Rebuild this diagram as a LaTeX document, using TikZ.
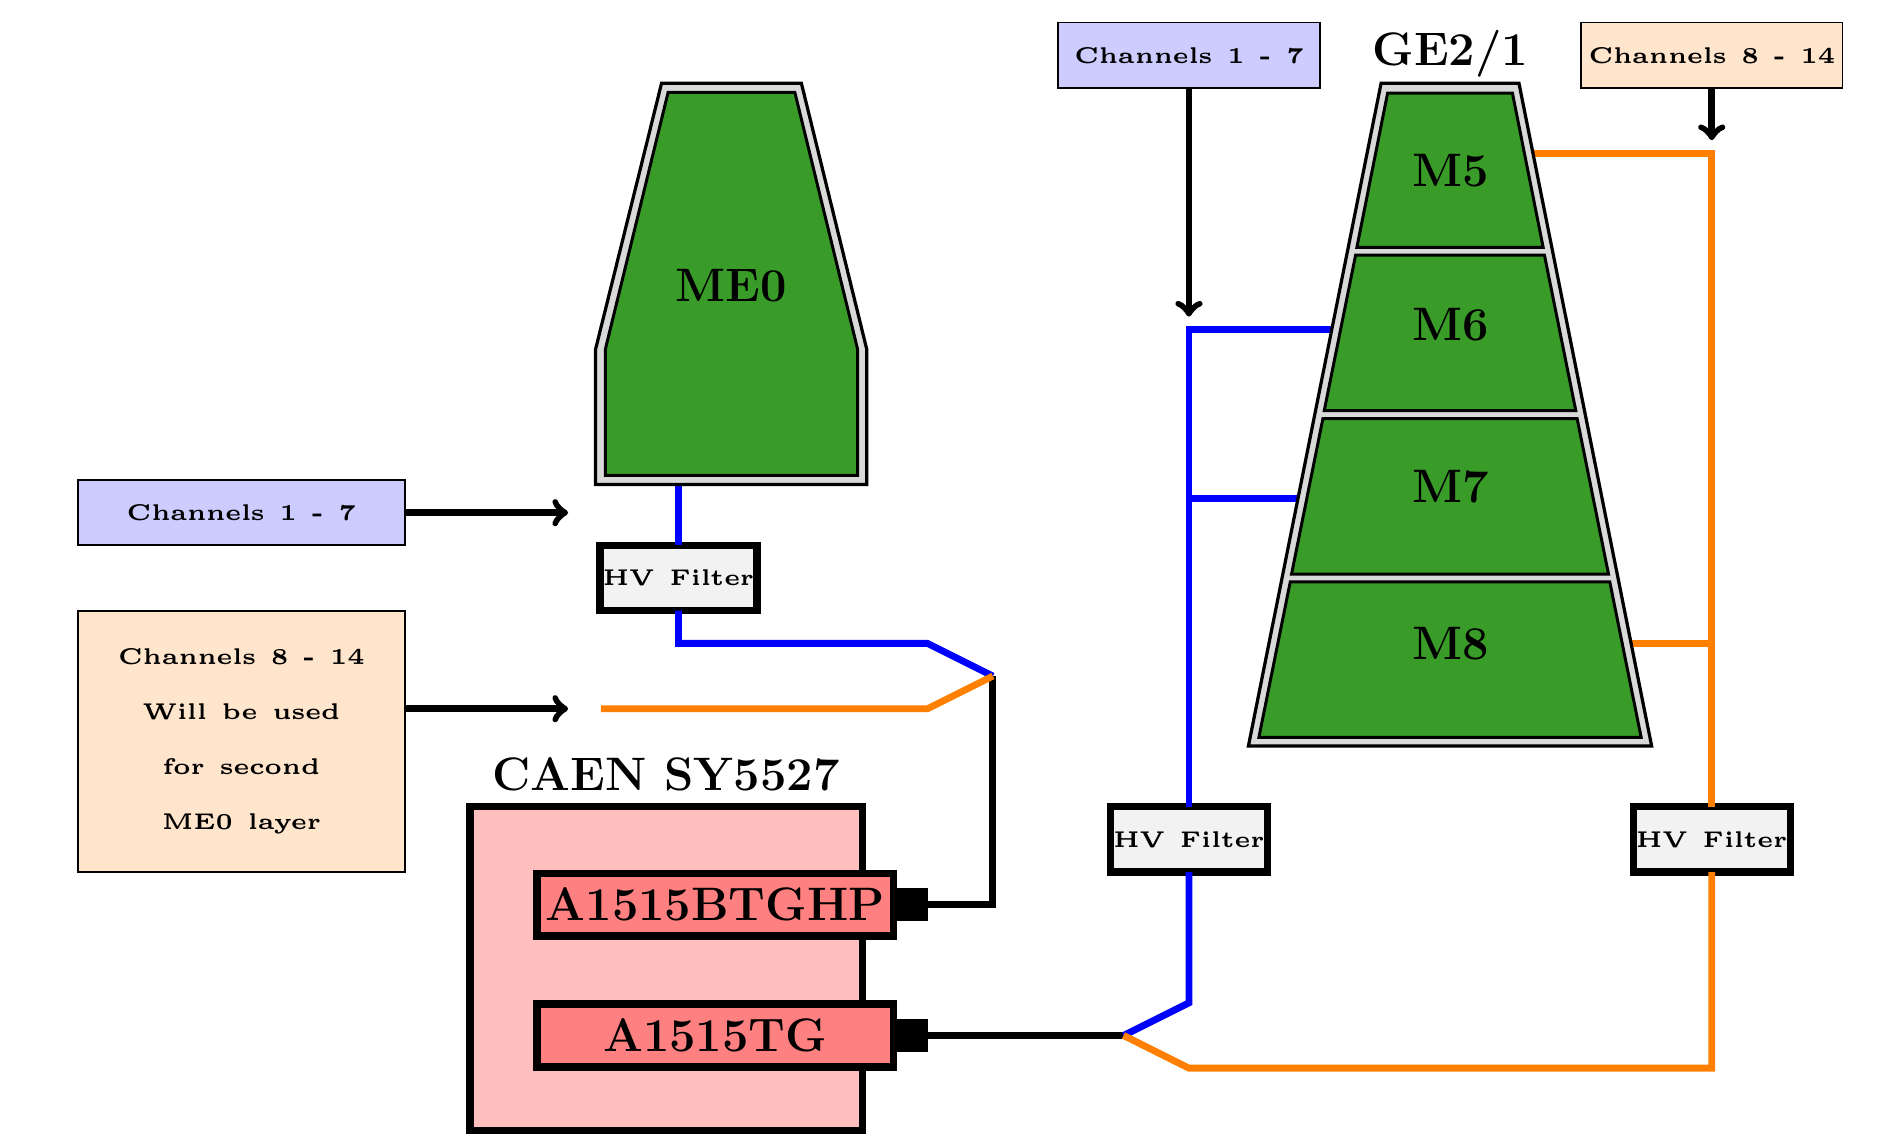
\documentclass[tikz,border=0pt]{standalone}
\usepackage{tikz}

\definecolor{chamber}{RGB}{58,156,40}
\newcommand{\chanfont}{\tiny\bfseries\spaceskip=3.3pt\relax}
\newcommand{\bigfont}{\fontsize{20.45}{24}\selectfont\bfseries}

\begin{document}
\begin{tikzpicture}[>=to,
    wire/.style={line width=3pt},
    chan/.style={draw, thick, scale=1.98, outer sep=0pt, inner sep=0pt, font=\chanfont, align=center, minimum width=5cm/1.98, minimum height=1cm/1.98},
    filter/.style={draw, line width=3.2pt, fill=gray!10, scale=1.98, outer sep=0pt, font=\chanfont, inner sep=0pt, minimum width=2.4cm/1.98, minimum height=1cm/1.98},
    module/.style={draw, line width=3.2pt, fill=red!50, outer sep=0pt, font=\bigfont, minimum width=5.45cm, minimum height=0.96cm},
    port/.style={fill=black, inner sep=0pt, outer sep=0pt, minimum size=0.5cm},
    title/.style={font=\bigfont},
    frame/.style={draw, line width=1.4pt, fill=gray!30},
    gem/.style={draw, line width=1.3pt, fill=chamber}]
  \useasboundingbox (-1.193,0) rectangle (27.697,17.345);

  % Labels for the channels
  \node[chan, fill=blue!20] (chanA) at (2.5,9.5) {Channels 1 - 7};
  \node[chan, fill=orange!20, minimum height=4cm/1.98] (chanB) at (2.5,6) {Channels 8 - 14\\[6.1pt] Will be used\\[6.1pt] for second\\[6.1pt] ME0 layer};
  \node[chan, fill=blue!20, minimum width=4cm/1.98] (chanC) at (17,16.5) {Channels 1 - 7};
  \node[chan, fill=orange!20, minimum width=4cm/1.98] (chanD) at (25,16.5) {Channels 8 - 14};

  % Mainframe and boards
  \draw[line width=3.2pt, fill=red!25] (6,0.04) rectangle (12,5);
  \node[title] (caen) at (9,5.5) {CAEN SY5527};
  \node[module] (boardA) at (9.75,3.5) {A1515BTGHP};
  \node[module] (boardB) at (9.75,1.5) {A1515TG};
  \node[port] (portA) at (12.75,3.5) {};
  \node[port] (portB) at (12.75,1.5) {};

  % Filters
  \node[filter] (filterA) at (9.19,8.5) {HV Filter};
  \node[filter] (filterB) at (17,4.5) {HV Filter};
  \node[filter] (filterC) at (25,4.5) {HV Filter};

  % Points where the wires split or end
  \coordinate (splitA) at (14,7);
  \coordinate (splitB) at (16,1.5);
  \coordinate (armA) at (7.5,9.5);
  \coordinate (armB) at (7.5,6.5);
  \coordinate (armC) at (17,12.5);
  \coordinate (armD) at (25,15.2);
  \coordinate (spare) at (8,6.5);
  \coordinate (meIn) at (9.19,9.94);
  \coordinate (mSix) at (19.2,12.3);
  \coordinate (mSeven) at (18.68,9.72);
  \coordinate (mFive) at (22.26,15);
  \coordinate (mEight) at (23.76,7.5);

  % Black wires
  \draw[wire] (portA.east) -- (14,3.5) -- (splitA);
  \draw[wire] (portB.east) -- (splitB);
  \draw[wire, ->] (chanA.east |- armA) -- (armA);
  \draw[wire, ->] (chanB.east |- armB) -- (armB);
  \draw[wire, ->] (chanC.south) -- (armC);
  \draw[wire, ->] (chanD.south) -- (armD);

  % Blue wires
  \draw[wire, blue] (filterA.north) -- (meIn);
  \draw[wire, blue] (filterA.south) -- (9.19,7.5) -- (13,7.5) -- (splitA);
  \draw[wire, blue] (splitB) -- (17,2) -- (filterB.south);
  \draw[wire, blue] (filterB.north) -- (17,12.3) -- (mSix);
  \draw[wire, blue] (17,9.72) -- (mSeven);

  % Orange wires
  \draw[wire, orange] (spare) -- (13,6.5) -- (splitA);
  \draw[wire, orange] (splitB) -- (17,1) -- (25,1) -- (filterC.south);
  \draw[wire, orange] (filterC.north) -- (25,15) -- (mFive);
  \draw[wire, orange] (25,7.5) -- (mEight);

  % ME0
  \draw[frame] (8.93,16.07) -- (11.07,16.07) -- (12.07,12) -- (12.07,9.93) -- (7.92,9.93) -- (7.92,12) -- cycle;
  \draw[gem] (9.03,15.93) -- (10.97,15.93) -- (11.93,12) -- (11.93,10.07) -- (8.07,10.07) -- (8.07,12) -- cycle;
  \node[title] (meZero) at (10,12.98) {ME0};

  % GE2/1
  \draw[frame] (19.94,16.07) -- (22.05,16.07) -- (24.08,5.93) -- (17.91,5.93) -- cycle;
  \draw[gem] (20.04,15.92) -- (21.95,15.92) -- (22.42,13.56) -- (19.57,13.56) -- cycle;
  \draw[gem] (19.55,13.44) -- (22.44,13.44) -- (22.92,11.06) -- (19.07,11.06) -- cycle;
  \draw[gem] (19.05,10.94) -- (22.94,10.94) -- (23.42,8.56) -- (18.57,8.56) -- cycle;
  \draw[gem] (18.55,8.44) -- (23.44,8.44) -- (23.92,6.06) -- (18.07,6.06) -- cycle;
  \node[title] (ge) at (21,16.52) {GE2/1};
  \node[title] (mFiveText) at (21,14.74) {M5};
  \node[title] (mSixText) at (21,12.38) {M6};
  \node[title] (mSevenText) at (21,9.9) {M7};
  \node[title] (mEightText) at (21,7.5) {M8};
\end{tikzpicture}
\end{document}
